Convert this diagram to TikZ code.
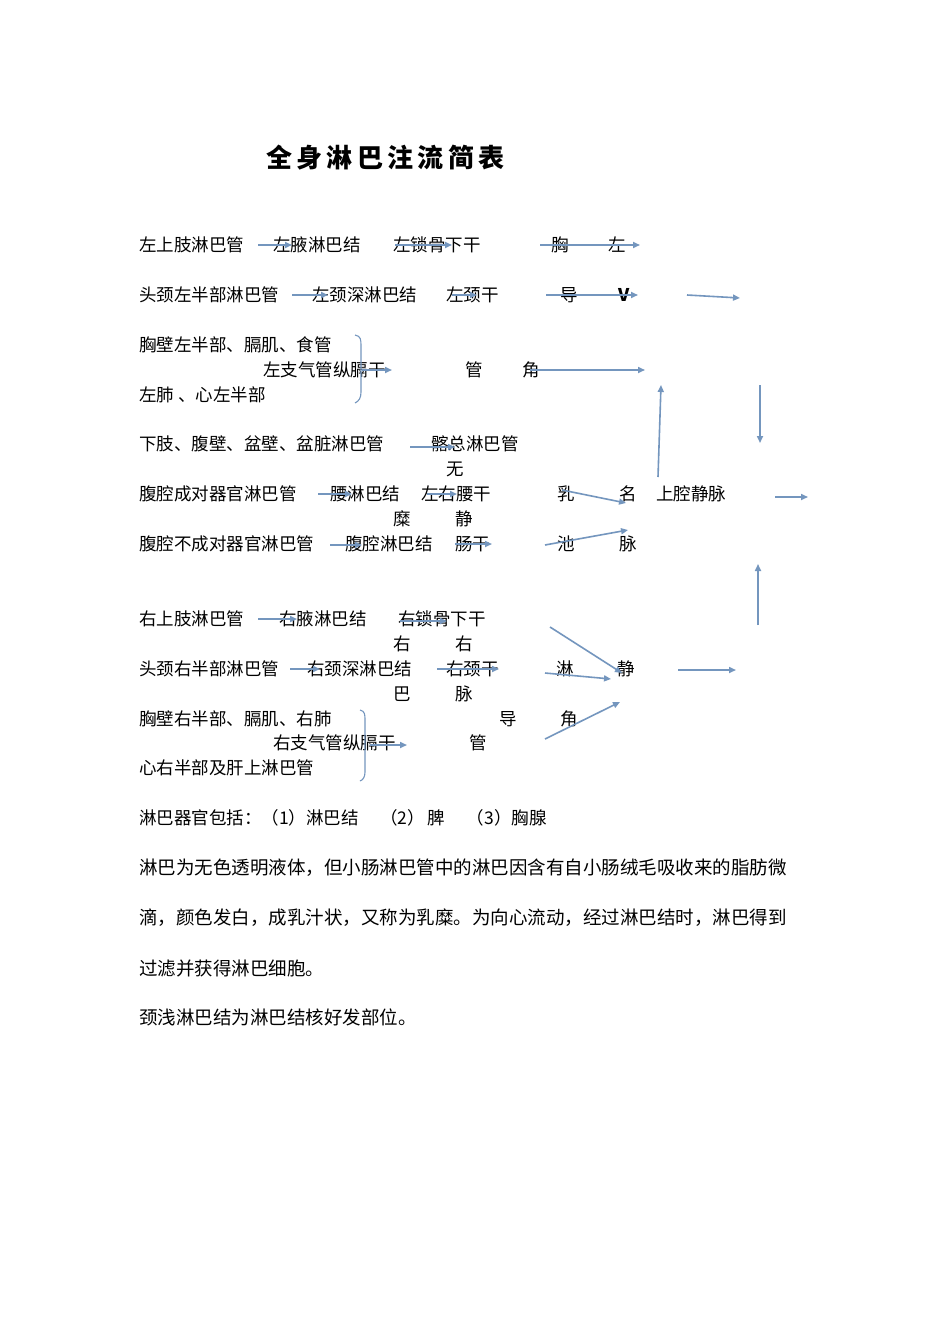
\documentclass[tikz,border=0pt]{standalone}
\usepackage{fontspec}
\setmainfont{Noto Sans CJK SC}
\usetikzlibrary{arrows.meta}
\definecolor{arrc}{RGB}{116,150,190}
\begin{document}
\begin{tikzpicture}[x=1pt,y=-1pt,
  t/.style={anchor=west,inner sep=0pt,font=\fontsize{17.5}{20}\selectfont},
  arr/.style={draw=arrc,line width=1.6pt,-{Triangle[length=7pt,width=6pt]}},
  brc/.style={draw=arrc,line width=1.1pt}]
\useasboundingbox[fill=white] (0,0) rectangle (950,1344);
\node[anchor=west,inner sep=0pt,font=\fontsize{26}{30}\selectfont\bfseries] (title) at (266,158) {全\,身\,淋\,巴\,注\,流\,简\,表};
% row 1
\node[t] (a1) at (139,245) {左上肢淋巴管};
\node[t] (a2) at (273,245) {左腋淋巴结};
\node[t] (a3) at (393,245) {左锁骨下干};
\node[t] (a4) at (551,245) {胸};
\node[t] (a5) at (608,245) {左};
\draw[arr] (258,245) coordinate(p1) -- (292,245) coordinate(q1);
\draw[arr] (395,245) coordinate(p2) -- (452,245) coordinate(q2);
\draw[arr] (540,245) coordinate(p3) -- (640,245) coordinate(q3);
% row 2
\node[t] (b1) at (139,295) {头颈左半部淋巴管};
\node[t] (b2) at (312,295) {左颈深淋巴结};
\node[t] (b3) at (446,295) {左颈干};
\node[t] (b4) at (560,295) {导};
\node[t,font=\fontsize{17.5}{20}\selectfont\bfseries] (b5) at (618,295) {V};
\draw[arr] (292,295) coordinate(p4) -- (328,295) coordinate(q4);
\draw[arr] (452,295) coordinate(p5) -- (477,295) coordinate(q5);
\draw[arr] (546,295) coordinate(p6) -- (638,295) coordinate(q6);
\draw[arr] (687,295) coordinate(p7) -- (740,298) coordinate(q7);
% row 3
\node[t] (c1) at (139,345) {胸壁左半部、膈肌、食管};
\node[t] (c2) at (263,370) {左支气管纵膈干};
\node[t] (c3) at (465,370) {管};
\node[t] (c4) at (522,370) {角};
\node[t] (c5) at (139,395) {左肺\ 、心左半部};
\draw[brc] (355,335) .. controls (361,336) and (361,340) .. (361,346) -- (361,392) .. controls (361,398) and (359,401) .. (355,403);
\draw[arr] (362,370) coordinate(p8) -- (392,370) coordinate(q8);
\draw[arr] (530,370) coordinate(p9) -- (645,370) coordinate(q9);
\draw[arr] (658,477) coordinate(p10) -- (661,385) coordinate(q10);
\draw[arr] (760,385) coordinate(p11) -- (760,443) coordinate(q11);
% row 4
\node[t] (d1) at (139,444) {下肢、腹壁、盆壁、盆脏淋巴管};
\node[t] (d2) at (431,444) {髂总淋巴管};
\draw[arr] (410,447) coordinate(p12) -- (455,447) coordinate(q12);
\node[t] (d3) at (446,469) {无};
% row 5
\node[t] (e1) at (139,494) {腹腔成对器官淋巴管};
\node[t] (e2) at (330,494) {腰淋巴结};
\node[t] (e3) at (421,494) {左右腰干};
\node[t] (e4) at (557,494) {乳};
\node[t] (e5) at (619,494) {名};
\node[t] (e6) at (656,494) {上腔静脉};
\draw[arr] (318,494) coordinate(p13) -- (352,494) coordinate(q13);
\draw[arr] (427,494) coordinate(p14) -- (457,494) coordinate(q14);
\draw[arr] (562,490) coordinate(p15) -- (626,503) coordinate(q15);
\draw[arr] (775,497) coordinate(p16) -- (808,497) coordinate(q16);
\node[t] (f1) at (393,519) {糜};
\node[t] (f2) at (455,519) {静};
% row 6
\node[t] (g1) at (139,544) {腹腔不成对器官淋巴管};
\node[t] (g2) at (345,544) {腹腔淋巴结};
\node[t] (g3) at (455,544) {肠干};
\node[t] (g4) at (557,544) {池};
\node[t] (g5) at (619,544) {脉};
\draw[arr] (330,545) coordinate(p17) -- (362,545) coordinate(q17);
\draw[arr] (455,544) coordinate(p18) -- (492,544) coordinate(q18);
\draw[arr] (545,545) coordinate(p19) -- (628,530) coordinate(q19);
\draw[arr] (758,625) coordinate(p20) -- (758,564) coordinate(q20);
% row 7
\node[t] (h1) at (139,619) {右上肢淋巴管};
\node[t] (h2) at (279,619) {右腋淋巴结};
\node[t] (h3) at (398,619) {右锁骨下干};
\draw[arr] (258,619) coordinate(p21) -- (297,619) coordinate(q21);
\draw[arr] (400,621) coordinate(p22) -- (447,621) coordinate(q22);
\node[t] (i1) at (393,644) {右};
\node[t] (i2) at (455,644) {右};
% row 8
\node[t] (j1) at (139,669) {头颈右半部淋巴管};
\node[t] (j2) at (307,669) {右颈深淋巴结};
\node[t] (j3) at (446,669) {右颈干};
\node[t] (j4) at (556,669) {淋};
\node[t] (j5) at (617,669) {静};
\draw[arr] (290,669) coordinate(p23) -- (320,669) coordinate(q23);
\draw[arr] (437,669) coordinate(p24) -- (499,669) coordinate(q24);
\draw[arr] (550,627) coordinate(p25) -- (622,673) coordinate(q25);
\draw[arr] (545,673) coordinate(p26) -- (611,679) coordinate(q26);
\draw[arr] (678,670) coordinate(p27) -- (736,670) coordinate(q27);
\node[t] (k1) at (393,694) {巴};
\node[t] (k2) at (455,694) {脉};
% row 9
\node[t] (l1) at (139,719) {胸壁右半部、膈肌、右肺};
\node[t] (l2) at (499,719) {导};
\node[t] (l3) at (560,719) {角};
\node[t] (l4) at (273,743) {右支气管纵膈干};
\node[t] (l5) at (469,743) {管};
\node[t] (l6) at (139,768) {心右半部及肝上淋巴管};
\draw[brc] (360,710) .. controls (365,711) and (365,715) .. (365,720) -- (365,772) .. controls (365,777) and (363,780) .. (360,781);
\draw[arr] (370,745) coordinate(p28) -- (407,745) coordinate(q28);
\draw[arr] (545,739) coordinate(p29) -- (620,702) coordinate(q29);
% bottom text
\node[t] (m1) at (139,818) {淋巴器官包括：（1）淋巴结\quad\ （2）\,脾\quad\ （3）胸腺};
\node[t,font=\fontsize{18.5}{20}\selectfont] (m2) at (139,868) {淋巴为无色透明液体，但小肠淋巴管中的淋巴因含有自小肠绒毛吸收来的脂肪微};
\node[t,font=\fontsize{18.5}{20}\selectfont] (m3) at (139,918) {滴，颜色发白，成乳汁状，又称为乳糜。为向心流动，经过淋巴结时，淋巴得到};
\node[t,font=\fontsize{18.5}{20}\selectfont] (m4) at (139,968) {过滤并获得淋巴细胞。};
\node[t,font=\fontsize{18.5}{20}\selectfont] (m5) at (139,1017) {颈浅淋巴结为淋巴结核好发部位。};
\end{tikzpicture}
\end{document}
